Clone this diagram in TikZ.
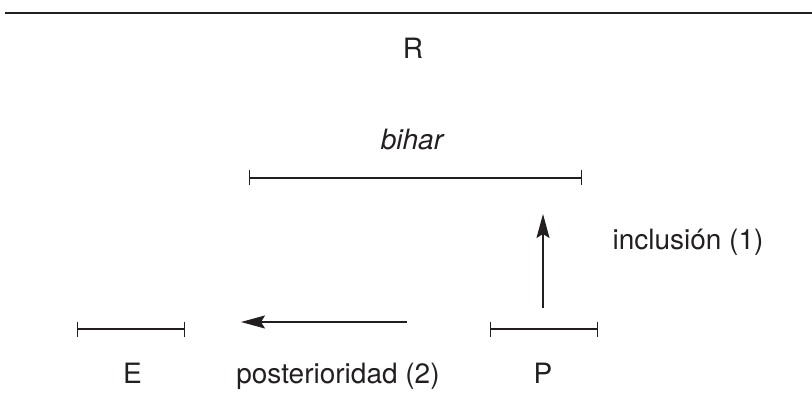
\documentclass[tikz,border=0pt]{standalone}
\usepackage{fontspec}
\setmainfont{TeX Gyre Heros}
\usetikzlibrary{arrows.meta}
\definecolor{ink}{HTML}{231F20}
\begin{document}
\begin{tikzpicture}[x=1pt,y=-1pt,
  ink/.style={draw=ink,line width=1.3pt},
  span/.style={ink,{Bar[width=15pt,line width=1.3pt]}-{Bar[width=15pt,line width=1.3pt]}},
  move/.style={ink,-{Stealth[length=24pt,width=13pt,inset=4pt]}},
  lbl/.style={anchor=base,inner sep=0pt,text=ink,font=\fontsize{28}{32}\selectfont}]
  \useasboundingbox (0,0) rectangle (812,393);
  % rule at the top
  \coordinate (ruleL) at (5,13);
  \coordinate (ruleR) at (812,13);
  \draw[ink,line width=1.6pt] (ruleL) -- (ruleR);
  % reference time
  \node[lbl] (R) at (413,59) {R};
  % interval of "bihar"
  \node[lbl] (bihar) at (412,150) {\itshape bihar};
  \coordinate (bL) at (249,178);
  \coordinate (bR) at (582,178);
  \draw[span] (bL) -- (bR);
  % event interval E
  \coordinate (eL) at (77,329);
  \coordinate (eR) at (185,329);
  \draw[span] (eL) -- (eR);
  \node[lbl] (E) at (132.5,383) {E};
  % event interval P
  \coordinate (pL) at (490,329);
  \coordinate (pR) at (598,329);
  \draw[span] (pL) -- (pR);
  \node[lbl] (P) at (543,383) {P};
  % relations
  \coordinate (upS) at (543,308);
  \coordinate (upT) at (543,214);
  \draw[move] (upS) -- (upT);
  \node[lbl] (incl) at (688,249) {inclusión (1)};
  \coordinate (ltS) at (407,322);
  \coordinate (ltT) at (241,322);
  \draw[move] (ltS) -- (ltT);
  \node[lbl] (post) at (338,383) {posterioridad (2)};
\end{tikzpicture}
\end{document}
